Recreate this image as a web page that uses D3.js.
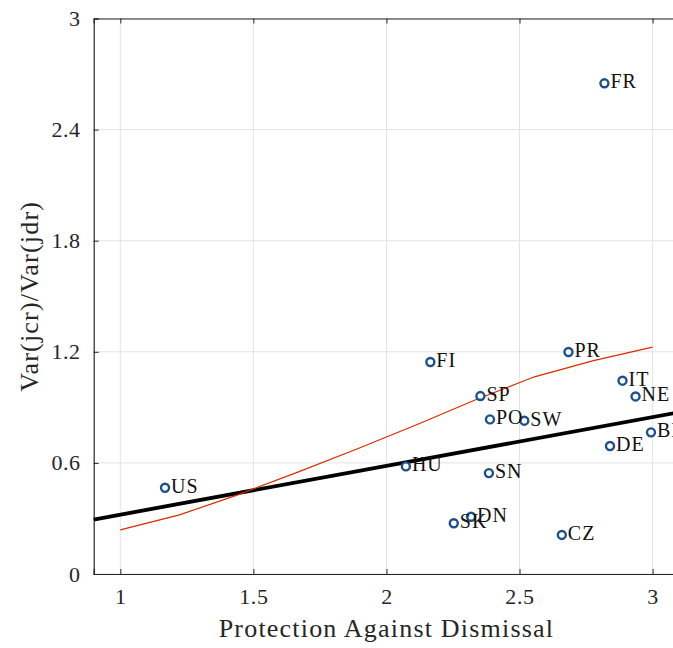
<!DOCTYPE html>
<html>
<head>
<meta charset="utf-8">
<script src="https://cdn.jsdelivr.net/npm/d3@7"></script>
<style>
  html, body { margin: 0; padding: 0; background: #fff; }
  svg { display: block; }
  text { font-family: "Liberation Serif", "Times New Roman", serif; }
</style>
</head>
<body>
<svg id="chart" width="673" height="648"></svg>
<script>
// Country codes, employment protection index and variance ratio
const countries = ["FR", "PR", "FI", "IT", "NE", "SP", "PO", "SW", "BE", "DE", "HU", "SN", "DN", "SK", "CZ", "US"];
const protection = [2.819, 2.684, 2.165, 2.887, 2.936, 2.353, 2.389, 2.518, 2.994, 2.840, 2.073, 2.385, 2.318, 2.253, 2.659, 1.168];
const varRatio   = [2.650, 1.199, 1.145, 1.044, 0.959, 0.961, 0.835, 0.828, 0.765, 0.691, 0.581, 0.545, 0.309, 0.274, 0.211, 0.466];

// Linear fit: intercept and slope
const fitIntercept = 0.057;
const fitSlope = 0.2635;

// Smoothed (local regression) curve evaluated on an evenly spaced grid
const smoothX = [1.0, 1.222, 1.444, 1.667, 1.889, 2.111, 2.333, 2.556, 2.778, 3.0];
const smoothY = [0.238, 0.319, 0.429, 0.55, 0.675, 0.805, 0.94, 1.065, 1.152, 1.225];

const xTicks = [1, 1.5, 2, 2.5, 3];
const yTicks = [0, 0.6, 1.2, 1.8, 2.4, 3];
const xDomain = [0.9, 3.1];
const yDomain = [0, 3];

const svg = d3.select("#chart");
const plotLeft = 93.7, plotRight = 679.2, plotTop = 18.5, plotBottom = 574;

const x = d3.scaleLinear().domain(xDomain).range([plotLeft, plotRight]);
const y = d3.scaleLinear().domain(yDomain).range([plotBottom, plotTop]);

const axisColor = "#262626";
const gridColor = "#e3e3e3";

// Grid
const grid = svg.append("g");
grid.selectAll(".gx").data(xTicks).join("line")
  .attr("x1", d => x(d)).attr("x2", d => x(d))
  .attr("y1", plotTop).attr("y2", plotBottom)
  .attr("stroke", gridColor).attr("stroke-width", 1);
grid.selectAll(".gy").data(yTicks).join("line")
  .attr("x1", plotLeft).attr("x2", plotRight)
  .attr("y1", d => y(d)).attr("y2", d => y(d))
  .attr("stroke", gridColor).attr("stroke-width", 1);

// Axes (ticks point inward)
const tickFmt = d => d3.format("~g")(d);
const xAxis = d3.axisBottom(x).tickValues(xTicks).tickSize(-5).tickPadding(14).tickFormat(tickFmt);
const yAxis = d3.axisLeft(y).tickValues(yTicks).tickSize(-5).tickPadding(13).tickFormat(tickFmt);
const xTop = d3.axisTop(x).tickValues(xTicks).tickSize(-5).tickFormat("");
const yRight = d3.axisRight(y).tickValues(yTicks).tickSize(-5).tickFormat("");

function styleAxis(g) {
  g.select(".domain").attr("stroke", axisColor).attr("stroke-width", 1.2);
  g.selectAll(".tick line").attr("stroke", axisColor).attr("stroke-width", 1);
  g.selectAll(".tick text").attr("fill", axisColor)
    .style("font-family", '"Liberation Serif", serif').style("font-size", "22px")
    .style("letter-spacing", "0.6px");
}

svg.append("g").attr("transform", `translate(0,${plotBottom})`).call(xAxis).call(styleAxis);
svg.append("g").attr("transform", `translate(${plotLeft},0)`).call(yAxis).call(styleAxis);
svg.append("g").attr("transform", `translate(0,${plotTop})`).call(xTop).call(styleAxis);
svg.append("g").attr("transform", `translate(${plotRight},0)`).call(yRight).call(styleAxis);

// Fitted straight line across the x range
svg.append("line")
  .attr("x1", x(xDomain[0])).attr("y1", y(fitIntercept + fitSlope * xDomain[0]))
  .attr("x2", x(xDomain[1])).attr("y2", y(fitIntercept + fitSlope * xDomain[1]))
  .attr("stroke", "#000").attr("stroke-width", 3.8);

// Smoothed curve
svg.append("path")
  .datum(smoothX.map((v, i) => [v, smoothY[i]]))
  .attr("d", d3.line().x(d => x(d[0])).y(d => y(d[1])))
  .attr("fill", "none").attr("stroke", "#d92a00").attr("stroke-width", 1.2);

// Country markers
const pts = countries.map((c, i) => ({ c, px: protection[i], py: varRatio[i] }));
svg.append("g").selectAll("circle").data(pts).join("circle")
  .attr("cx", d => x(d.px)).attr("cy", d => y(d.py)).attr("r", 4)
  .attr("fill", "#fff").attr("stroke", "#1c4f8c").attr("stroke-width", 2.4);

// Country labels
svg.append("g").selectAll("text").data(pts).join("text")
  .attr("x", d => x(d.px) + 6).attr("y", d => y(d.py) + 5)
  .attr("fill", "#111").style("font-size", "20px").style("letter-spacing", "1px")
  .text(d => d.c);

// Axis titles
svg.append("text")
  .attr("x", (plotLeft + plotRight) / 2).attr("y", 637)
  .attr("text-anchor", "middle").attr("fill", axisColor)
  .style("font-size", "26px").style("letter-spacing", "1.2px")
  .text("Protection Against Dismissal");

svg.append("text")
  .attr("transform", `translate(37.5,${(plotTop + plotBottom) / 2}) rotate(-90)`)
  .attr("text-anchor", "middle").attr("fill", axisColor)
  .style("font-size", "26px").style("letter-spacing", "1.2px")
  .text("Var(jcr)/Var(jdr)");
</script>
</body>
</html>
